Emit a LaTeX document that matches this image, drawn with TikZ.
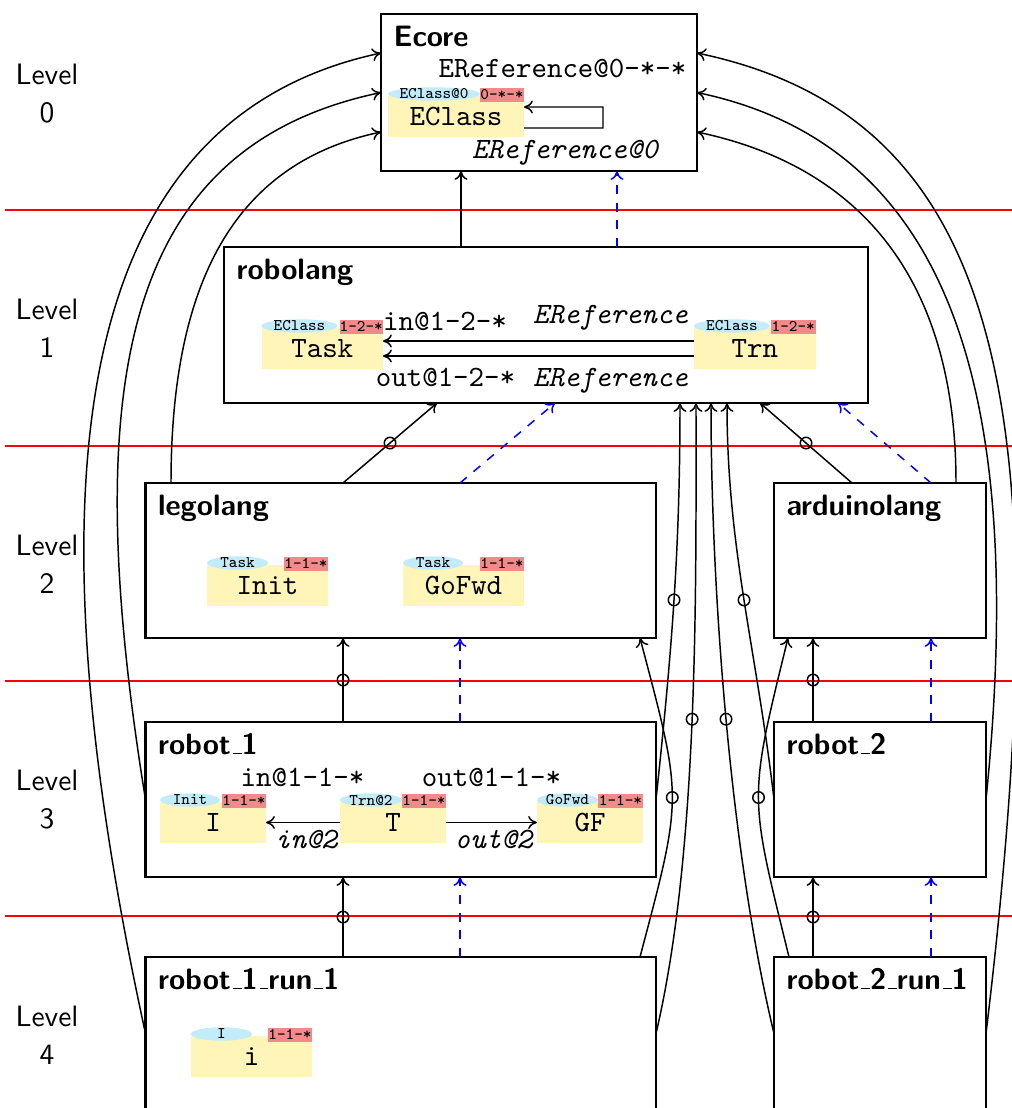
\documentclass[tikz,border=0pt]{standalone}
\usetikzlibrary{calc,arrows.meta}
\newlength\pxu
\setlength\pxu{0.33898pt}
\definecolor{elemyellow}{RGB}{255,245,184}
\definecolor{tagblue}{RGB}{194,236,250}
\definecolor{tagred}{RGB}{242,138,138}
\newcommand\us{\leavevmode\kern.06em\vbox{\hrule width.3em}}
\tikzset{
  box/.style={draw, line width=0.8pt, inner sep=0pt, outer sep=0pt},
  boxtitle/.style={font=\sffamily\bfseries, inner sep=0pt, anchor=base west},
  levellabel/.style={font=\sffamily, inner sep=0pt, anchor=base},
  levelline/.style={red, line width=0.65pt},
  elembody/.style={fill=elemyellow, inner sep=0pt, outer sep=0pt, minimum height=41*\pxu, font=\ttfamily},
  tagtext/.style={font=\fontsize{5.5}{6}\selectfont\ttfamily, inner sep=0pt},
  tagcount/.style={tagtext, fill=tagred, outer sep=0pt, minimum height=14.5*\pxu},
  lbl/.style={font=\ttfamily, inner sep=0pt, anchor=base},
  ilbl/.style={font=\ttfamily\itshape, inner sep=0pt, anchor=base},
  conn/.style={-{To[length=3pt,width=4.4pt]}, line width=0.5pt},
  inst/.style={conn},
  ling/.style={conn, blue, dashed},
  ring/.style={circle, draw, line width=0.5pt, inner sep=0pt, minimum size=11.5*\pxu},
}
\newcommand\levelbox[6]{%
  \node[box, minimum width={(#4-#2)*\pxu}, minimum height={(#5-#3)*\pxu}] (#1) at ({(#2+#4)/2},{(#3+#5)/2}) {};
  \node[boxtitle] (#1-title) at ($(#1.north west)+(12,32)$) {#6};
}
\newcommand\elem[9]{%
  \node[elembody, minimum width={#4*\pxu}, anchor=north] (#1) at (#2,#3) {#9};
  \fill[tagblue] ($(#1.north west)+(#5/2,-2)$) ellipse [x radius=#5/2, y radius=6.75];
  \node[tagtext] (#1-type) at ($(#1.north west)+(#5/2,-2)$) {#7};
  \node[tagcount, minimum width={#6*\pxu}, anchor=north east] (#1-pot) at ($(#1.north east)+(0,-8.5)$) {#8};
}
\begin{document}
\begin{tikzpicture}[x=\pxu, y=-\pxu]
\useasboundingbox (0,0) rectangle (1012,1108);
\clip (0,0) rectangle (1012,1108);

% level separators
\foreach \yy in {210,446,681,916} \draw[levelline] (5,\yy) -- (1012,\yy);
\foreach \k in {0,...,4} {
  \node[levellabel] (lvlA\k) at (47,{84+235.5*\k}) {Level};
  \node[levellabel] (lvlB\k) at (47,{122+235.5*\k}) {\k};
}

% boxes
\levelbox{ecore}{381}{14}{697}{171}{Ecore}
\levelbox{robolang}{224}{247}{868}{403}{robolang}
\levelbox{legolang}{145.5}{483}{656}{638}{legolang}
\levelbox{arduino}{774}{483}{986}{638}{arduinolang}
\levelbox{robot1}{145.5}{722}{656}{877}{robot\us1}
\levelbox{robot2}{774}{722}{986}{877}{robot\us2}
\levelbox{rone}{145.5}{957}{656}{1110}{robot\us1\us run\us1}
\levelbox{rtwo}{774}{957}{986}{1110}{robot\us2\us run\us1}

% elements
\elem{eclass}{456}{96}{136}{92}{44}{EClass@0}{0-*-*}{EClass}
\elem{task}{322.25}{328}{121.5}{76}{43.5}{EClass}{1-2-*}{Task}
\elem{trn}{754.75}{328}{121.5}{76}{44.5}{EClass}{1-2-*}{Trn}
\elem{init}{267.5}{565}{121}{61}{44}{Task}{1-1-*}{Init}
\elem{gofwd}{463.5}{565}{121}{60}{44}{Task}{1-1-*}{GoFwd}
\elem{ii}{213}{802}{106}{60}{44}{Init}{1-1-*}{I}
\elem{tt}{393}{802}{106}{62}{44}{Trn@2}{1-1-*}{T}
\elem{gf}{590}{802}{106}{61}{45}{GoFwd}{1-1-*}{GF}
\elem{ir}{251.5}{1036}{121}{61}{44}{I}{1-1-*}{i}

% labels
\node[lbl] (ecore-l1) at (562.5,77) {EReference@0-*-*};
\node[ilbl] (ecore-l2) at (565,158) {EReference@0};
\node[lbl] (rl-in) at (445,330) {in@1-2-*};
\node[ilbl] (rl-inT) at (610.5,323.5) {EReference};
\node[lbl] (rl-out) at (445.5,386.5) {out@1-2-*};
\node[ilbl] (rl-outT) at (610.5,386.5) {EReference};
\node[lbl] (r1-in) at (302.5,786) {in@1-1-*};
\node[lbl] (r1-out) at (491.5,786) {out@1-1-*};
\node[ilbl] (r1-in2) at (306,848) {in@2};
\node[ilbl] (r1-out2) at (493.5,848) {out@2};

% references inside models
\draw[conn] ($(eclass.east)+(0,11.5)$) -- ++(79,0) -- ++(0,-21) -- ($(eclass.east)+(0,-9.5)$);
\draw[conn] ($(trn.west)+(0,-7.5)$) -- ($(task.east)+(0,-7.5)$);
\draw[conn] ($(trn.west)+(0,7.5)$) -- ($(task.east)+(0,7.5)$);
\draw[conn] (tt.west) -- (ii.east);
\draw[conn] (tt.east) -- (gf.west);

% level 1 -> 0
\draw[inst] ($(robolang.north west)+(237,0)$) coordinate (p10) -- (p10 |- ecore.south);
\draw[ling] ($(robolang.north west)+(393,0)$) coordinate (q10) -- (q10 |- ecore.south);
% level 2 -> 1
\draw[inst] ($(legolang.north west)+(197.5,0)$) -- ($(robolang.south west)+(213,0)$) node[ring, pos=0.5] (ring1) {};
\draw[ling] ($(legolang.north west)+(314.5,0)$) -- ($(robolang.south west)+(331,0)$);
\draw[inst] ($(arduino.north west)+(78,0)$) -- ($(robolang.south west)+(536,0)$) node[ring, pos=0.5] (ring2) {};
\draw[ling] ($(arduino.north west)+(157,0)$) -- ($(robolang.south west)+(614,0)$);
% level 3 -> 2
\draw[inst] ($(robot1.north west)+(197.5,0)$) coordinate (p32) -- (p32 |- legolang.south) node[ring, pos=0.5] (ring3) {};
\draw[ling] ($(robot1.north west)+(314.5,0)$) coordinate (q32) -- (q32 |- legolang.south);
\draw[inst] ($(robot2.north west)+(39,0)$) coordinate (p32b) -- (p32b |- arduino.south) node[ring, pos=0.5] (ring4) {};
\draw[ling] ($(robot2.north west)+(157,0)$) coordinate (q32b) -- (q32b |- arduino.south);
% level 4 -> 3
\draw[inst] ($(rone.north west)+(197.5,0)$) coordinate (p43) -- (p43 |- robot1.south) node[ring, pos=0.5] (ring5) {};
\draw[ling] ($(rone.north west)+(314.5,0)$) coordinate (q43) -- (q43 |- robot1.south);
\draw[inst] ($(rtwo.north west)+(39,0)$) coordinate (p43b) -- (p43b |- robot2.south) node[ring, pos=0.5] (ring6) {};
\draw[ling] ($(rtwo.north west)+(157,0)$) coordinate (q43b) -- (q43b |- robot2.south);

% crossing two or more levels
\draw[inst] (robot1.east) .. controls +(16,-149.5) and +(0,146) .. ($(robolang.south west)+(456,0)$) node[ring, pos=0.5] (ring7) {};
\draw[inst] (rone.east) .. controls +(43,-183.5) and +(0,186) .. ($(robolang.south west)+(472,0)$) node[ring, pos=0.5] (ring8) {};
\draw[inst] (rtwo.west) .. controls +(-44,-183.5) and +(0,186) .. ($(robolang.south west)+(487,0)$) node[ring, pos=0.5] (ring9) {};
\draw[inst] (robot2.west) .. controls +(-17.3,-149.5) and +(0,146) .. ($(robolang.south west)+(503,0)$) node[ring, pos=0.5] (ring10) {};
\draw[inst] ($(rone.north east)+(-16,0)$) .. controls +(43,-163) and +(43,163) .. ($(legolang.south east)+(-16,0)$) node[ring, pos=0.5] (ring11) {};
\draw[inst] ($(rtwo.north west)+(15,0)$) .. controls +(-40,-163) and +(-40,163) .. ($(arduino.south west)+(14,0)$) node[ring, pos=0.5] (ring12) {};

% long arcs to Ecore
\draw[conn] ($(legolang.north west)+(25.5,0)$) .. controls +(0,-200) and +(-147,31) .. ($(ecore.west)+(0,39.5)$);
\draw[conn] (robot1.west) .. controls +(-67.5,-416.5) and +(-259,54.5) .. (ecore.west);
\draw[conn] (rone.west) .. controls +(-119.5,-548.5) and +(-313,67) .. ($(ecore.west)+(0,-39.5)$);
\draw[conn] ($(arduino.north west)+(182,0)$) .. controls +(0,-201) and +(166,35) .. ($(ecore.east)+(0,39.5)$);
\draw[conn] (robot2.east) .. controls +(43,-423.5) and +(245,51.5) .. (ecore.east);
\draw[conn] (rtwo.east) .. controls +(74,-616.5) and +(313,65.6) .. ($(ecore.east)+(0,-39.5)$);
\end{tikzpicture}
\end{document}
